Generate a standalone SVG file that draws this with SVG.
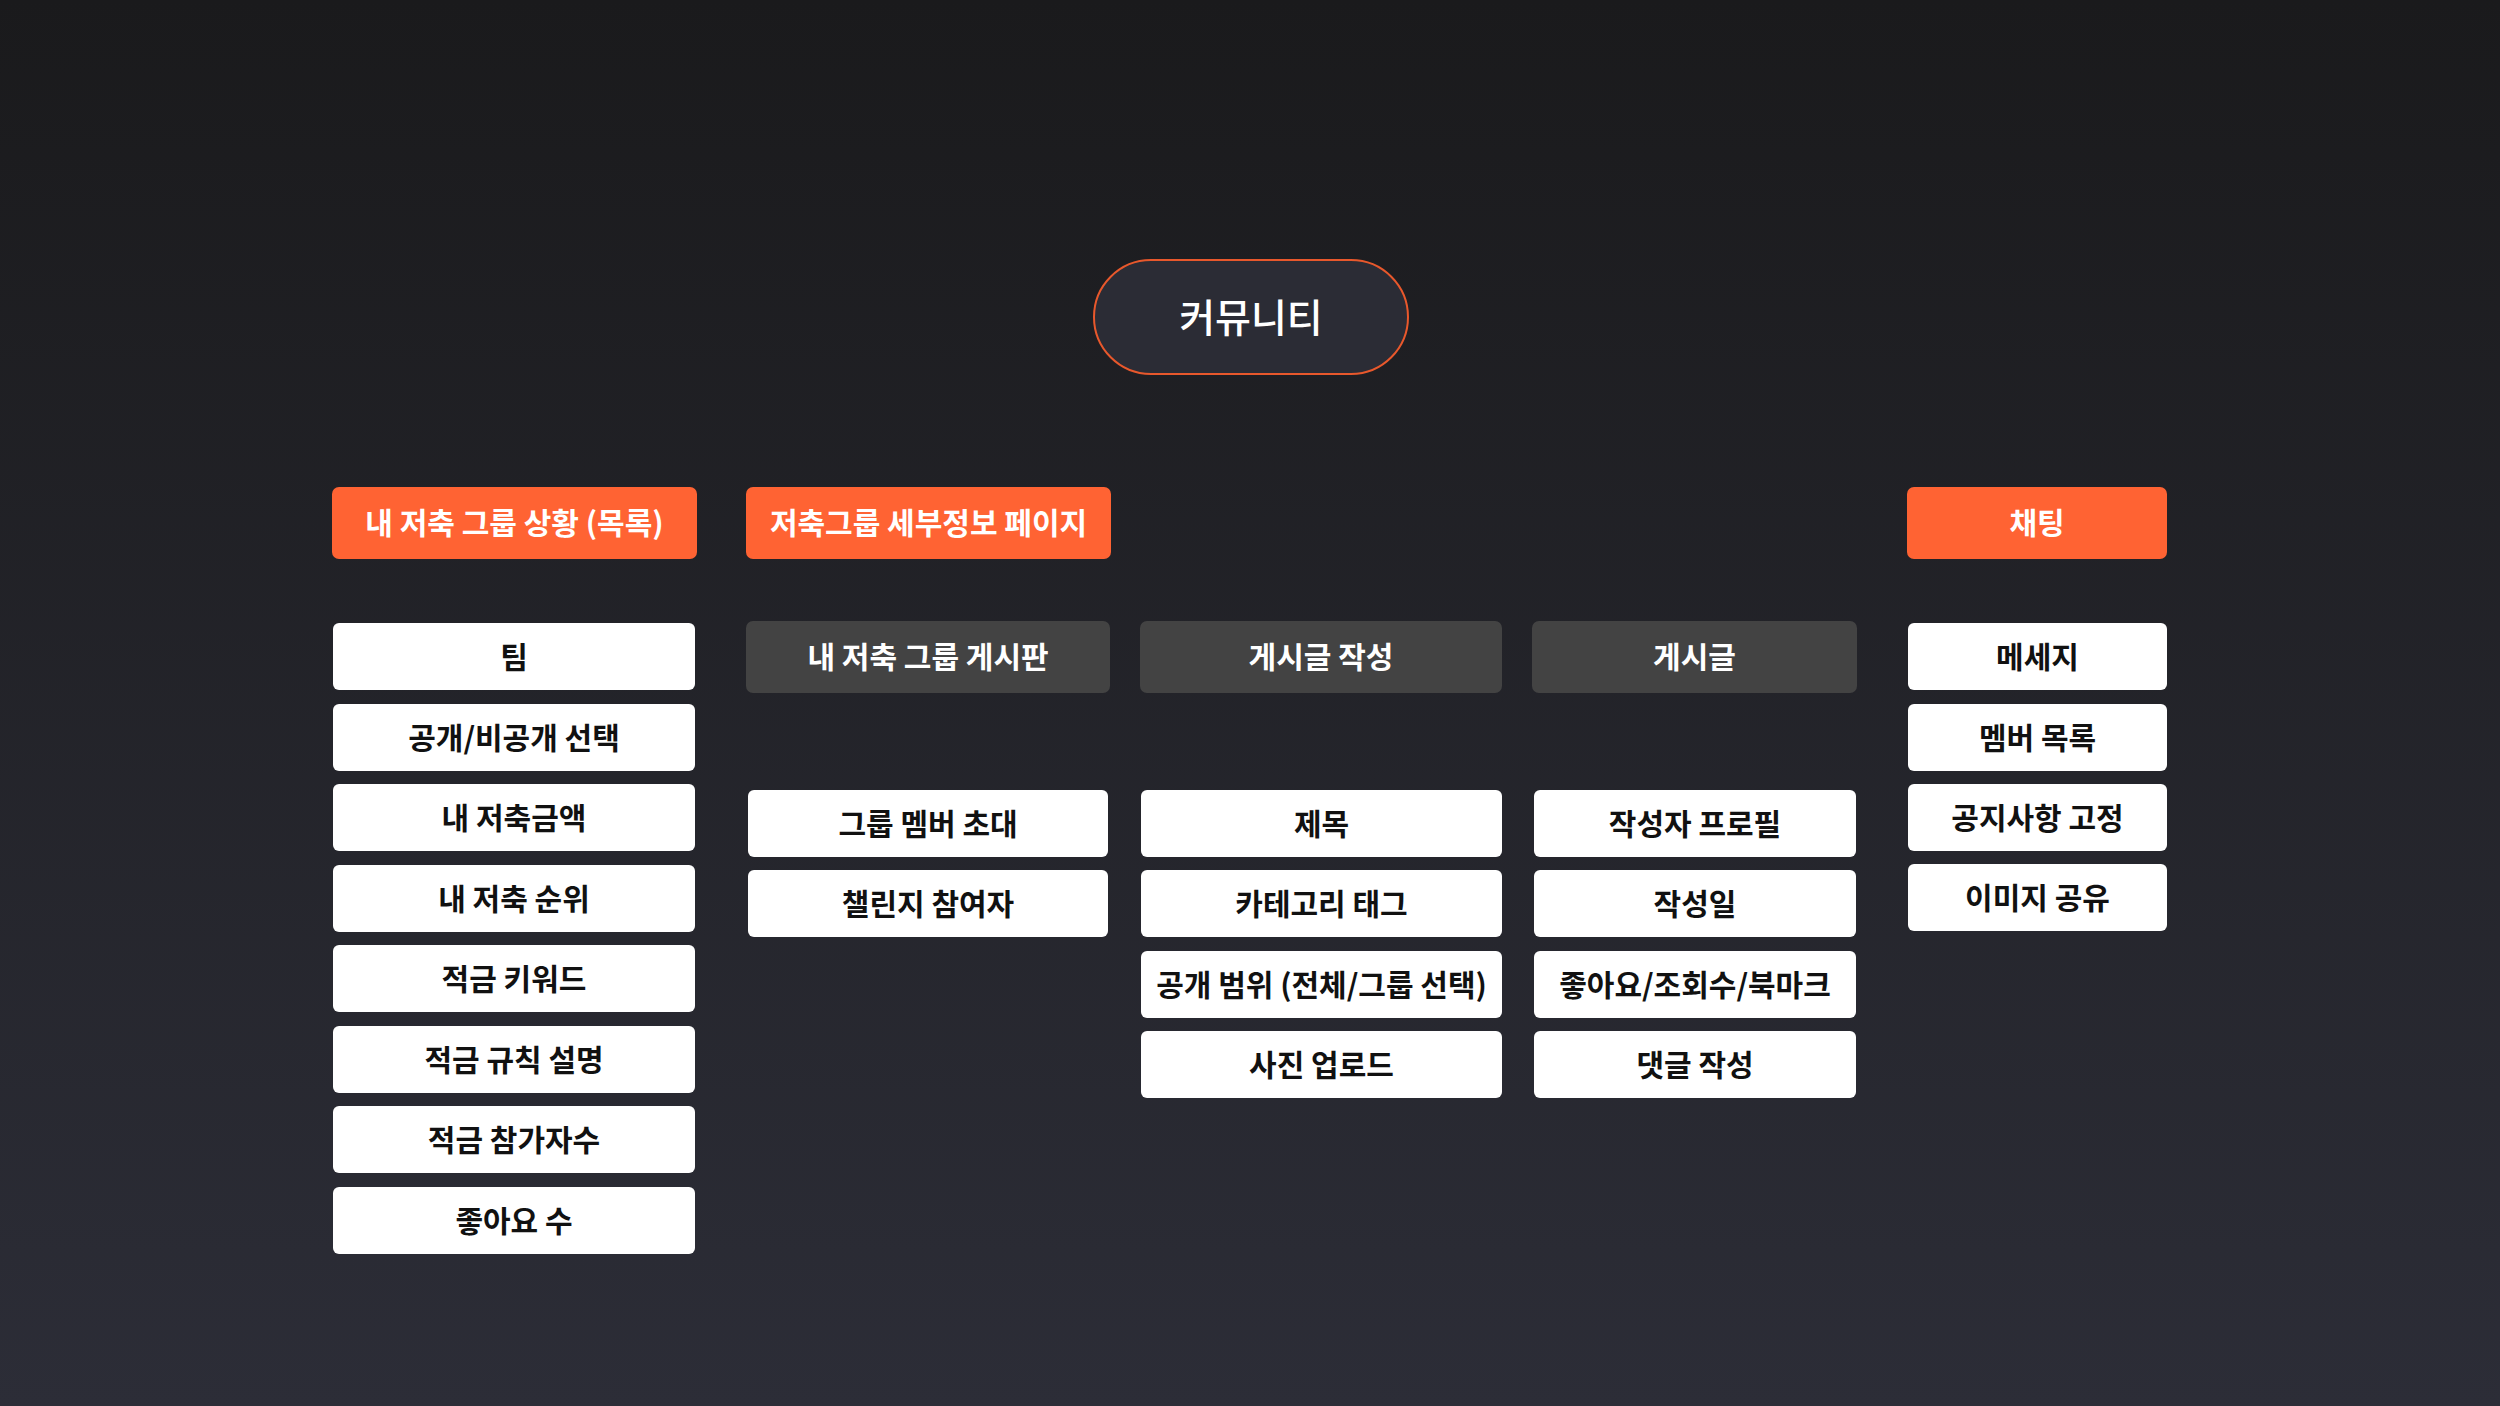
<svg xmlns="http://www.w3.org/2000/svg" width="2500" height="1406" viewBox="0 0 2500 1406">
  <defs>
    <linearGradient id="bg" x1="0" y1="0" x2="0" y2="1">
      <stop offset="0" stop-color="#1a1a1c"/>
      <stop offset="1" stop-color="#2c2d37"/>
    </linearGradient>
    <style>
      text { font-family: "Noto Sans CJK KR", "Noto Sans", sans-serif; text-anchor: middle; dominant-baseline: central; }
      .hdr rect { fill: #ff6333; }
      .hdr text { fill: #ffffff; font-size: 30px; font-weight: 700; }
      .sub rect { fill: #434343; }
      .sub text { fill: #ffffff; font-size: 30px; font-weight: 700; }
      .item rect { fill: #ffffff; }
      .item text { fill: #111111; font-size: 30px; font-weight: 700; }
      .root rect { fill: #2b2c35; stroke: #e8582c; stroke-width: 2; }
      .root text { fill: #ffffff; font-size: 39px; font-weight: 500; }
    </style>
  </defs>
  <rect x="0" y="0" width="2500" height="1406" fill="url(#bg)"/>
  <g id="connectors"/>

  <g id="root" class="root">
    <rect x="1094" y="260" width="314" height="114" rx="57"/>
    <text x="1251" y="315">커뮤니티</text>
  </g>

  <!-- headers -->
  <g id="h-mygroup" class="hdr"><rect x="332" y="487" width="365" height="72" rx="7"/><text x="514.5" y="521">내 저축 그룹 상황 (목록)</text></g>
  <g id="h-detail" class="hdr"><rect x="746" y="487" width="365" height="72" rx="7"/><text x="928.5" y="521">저축그룹 세부정보 페이지</text></g>
  <g id="h-chat" class="hdr"><rect x="1907" y="487" width="260" height="72" rx="7"/><text x="2037" y="521">채팅</text></g>

  <!-- gray sub headers -->
  <g id="s-board" class="sub"><rect x="746" y="621" width="364" height="72" rx="7"/><text x="928" y="655">내 저축 그룹 게시판</text></g>
  <g id="s-write" class="sub"><rect x="1140" y="621" width="362" height="72" rx="7"/><text x="1321" y="655">게시글 작성</text></g>
  <g id="s-post" class="sub"><rect x="1532" y="621" width="325" height="72" rx="7"/><text x="1694.5" y="655">게시글</text></g>

  <!-- column 1 -->
  <g id="c1-1" class="item"><rect x="333" y="623" width="362" height="67" rx="6"/><text x="514" y="654.5">팀</text></g>
  <g id="c1-2" class="item"><rect x="333" y="704" width="362" height="67" rx="6"/><text x="514" y="735.5">공개/비공개 선택</text></g>
  <g id="c1-3" class="item"><rect x="333" y="784" width="362" height="67" rx="6"/><text x="514" y="815.5">내 저축금액</text></g>
  <g id="c1-4" class="item"><rect x="333" y="865" width="362" height="67" rx="6"/><text x="514" y="896.5">내 저축 순위</text></g>
  <g id="c1-5" class="item"><rect x="333" y="945" width="362" height="67" rx="6"/><text x="514" y="976.5">적금 키워드</text></g>
  <g id="c1-6" class="item"><rect x="333" y="1026" width="362" height="67" rx="6"/><text x="514" y="1057.5">적금 규칙 설명</text></g>
  <g id="c1-7" class="item"><rect x="333" y="1106" width="362" height="67" rx="6"/><text x="514" y="1137.5">적금 참가자수</text></g>
  <g id="c1-8" class="item"><rect x="333" y="1187" width="362" height="67" rx="6"/><text x="514" y="1218.5">좋아요 수</text></g>

  <!-- column 2 -->
  <g id="c2-1" class="item"><rect x="748" y="790" width="360" height="67" rx="6"/><text x="928" y="821.5">그룹 멤버 초대</text></g>
  <g id="c2-2" class="item"><rect x="748" y="870" width="360" height="67" rx="6"/><text x="928" y="901.5">챌린지 참여자</text></g>

  <!-- column 3 -->
  <g id="c3-1" class="item"><rect x="1141" y="790" width="361" height="67" rx="6"/><text x="1321.5" y="821.5">제목</text></g>
  <g id="c3-2" class="item"><rect x="1141" y="870" width="361" height="67" rx="6"/><text x="1321.5" y="901.5">카테고리 태그</text></g>
  <g id="c3-3" class="item"><rect x="1141" y="951" width="361" height="67" rx="6"/><text x="1321.5" y="982.5">공개 범위 (전체/그룹 선택)</text></g>
  <g id="c3-4" class="item"><rect x="1141" y="1031" width="361" height="67" rx="6"/><text x="1321.5" y="1062.5">사진 업로드</text></g>

  <!-- column 4 -->
  <g id="c4-1" class="item"><rect x="1534" y="790" width="322" height="67" rx="6"/><text x="1695" y="821.5">작성자 프로필</text></g>
  <g id="c4-2" class="item"><rect x="1534" y="870" width="322" height="67" rx="6"/><text x="1695" y="901.5">작성일</text></g>
  <g id="c4-3" class="item"><rect x="1534" y="951" width="322" height="67" rx="6"/><text x="1695" y="982.5">좋아요/조회수/북마크</text></g>
  <g id="c4-4" class="item"><rect x="1534" y="1031" width="322" height="67" rx="6"/><text x="1695" y="1062.5">댓글 작성</text></g>

  <!-- column 5 -->
  <g id="c5-1" class="item"><rect x="1908" y="623" width="259" height="67" rx="6"/><text x="2037.5" y="654.5">메세지</text></g>
  <g id="c5-2" class="item"><rect x="1908" y="704" width="259" height="67" rx="6"/><text x="2037.5" y="735.5">멤버 목록</text></g>
  <g id="c5-3" class="item"><rect x="1908" y="784" width="259" height="67" rx="6"/><text x="2037.5" y="815.5">공지사항 고정</text></g>
  <g id="c5-4" class="item"><rect x="1908" y="864" width="259" height="67" rx="6"/><text x="2037.5" y="895.5">이미지 공유</text></g>
</svg>
